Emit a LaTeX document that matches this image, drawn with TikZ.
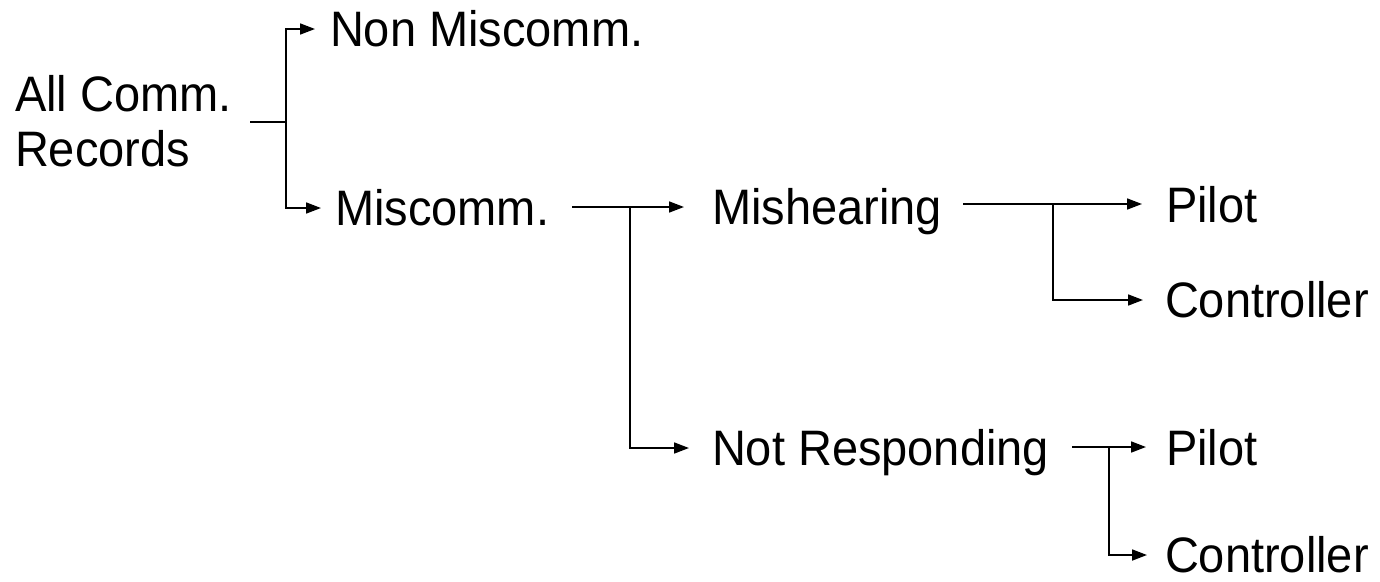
\documentclass[tikz,border=0pt]{standalone}
\usepackage{fontspec}
\setmainfont{Liberation Sans}
\usetikzlibrary{arrows.meta,calc}
\newcommand{\tallt}[1]{\scalebox{1}[1.06]{#1}}
\tikzset{
  lab/.style={font=\fontsize{47}{53}\selectfont, inner sep=0pt, outer sep=0pt,
              text height=35.7pt, text depth=0pt, anchor=west},
  conn/.style={line width=1.7pt},
  arr/.style={conn, arrows={-Triangle[length=15pt,width=11pt]}}
}
\begin{document}
\begin{tikzpicture}[x=1pt,y=-1pt]
\useasboundingbox (0,0) rectangle (1380,581);
% texts
\node[lab] (all1) at (15,94) {\tallt{All Comm.}};
\node[lab] (all2) at (15,149) {\tallt{Records}};
\node[lab] (nonm) at (330,29) {\tallt{Non Miscomm.}};
\node[lab] (misc) at (335,208) {\tallt{Miscomm.}};
\node[lab] (mish) at (712,207) {\tallt{Mishearing}};
\node[lab] (notr) at (712,448) {\tallt{Not Responding}};
\node[lab] (pil1) at (1166,205) {\tallt{Pilot}};
\node[lab] (con1) at (1165,300) {\tallt{Controller}};
\node[lab] (pil2) at (1166,448) {\tallt{Pilot}};
\node[lab] (con2) at (1165,555) {\tallt{Controller}};
% junctions
\coordinate (s0) at (250,122);
\coordinate (j0) at (286,122);
\coordinate (s1) at (572,207);
\coordinate (j1) at (630,207);
\coordinate (s2) at (963,204);
\coordinate (j2) at (1053,204);
\coordinate (s3) at (1072,447);
\coordinate (j3) at (1109,447);
% connectors
\draw[conn] (s0) -- (j0);
\draw[arr] (j0) |- ([xshift=-15pt]nonm.west);
\draw[arr] (j0) |- ([xshift=-14pt]misc.west);
\draw[arr] (s1) -- ([xshift=-28pt]mish.west);
\draw[arr] (j1) |- ([xshift=-23pt]notr.west);
\draw[arr] (s2) -- ([xshift=-24pt]pil1.west |- s2);
\draw[arr] (j2) |- ([xshift=-22pt]con1.west);
\draw[arr] (s3) -- ([xshift=-20pt]pil2.west |- s3);
\draw[arr] (j3) |- ([xshift=-18pt]con2.west);
\end{tikzpicture}
\end{document}
